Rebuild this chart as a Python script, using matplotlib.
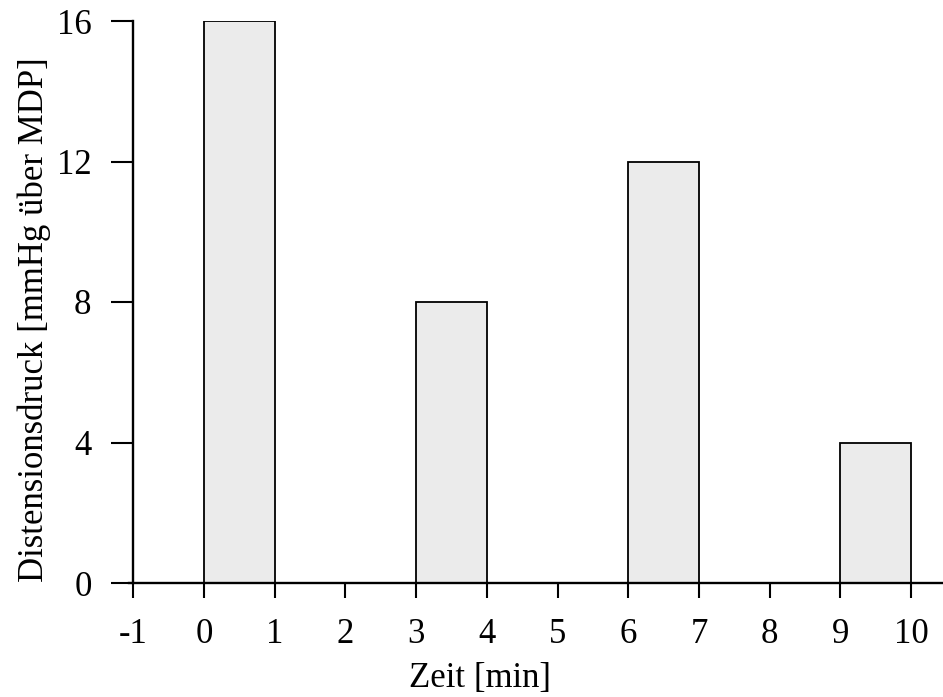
import matplotlib
matplotlib.use("Agg")
import matplotlib.pyplot as plt

starts = [0, 3, 6, 9]
widths = [1, 1, 1, 1]
heights = [16, 8, 12, 4]
xticks = [-1, 0, 1, 2, 3, 4, 5, 6, 7, 8, 9, 10]
xticklabels = ["-1", "0", "1", "2", "3", "4", "5", "6", "7", "8", "9", "10"]
yticks = [0, 4, 8, 12, 16]

plt.rcParams['font.family'] = ['Liberation Serif', 'DejaVu Serif']

fig = plt.figure(figsize=(9.43, 6.97), dpi=100)
ax = fig.add_axes([129/943, 1-583/697, 1-129/943, (583-21)/697])

ax.bar(starts, heights, width=widths, align='edge', color='#ebebeb',
       edgecolor='black', linewidth=1.3, zorder=2)

ax.set_xlim(-1.06, 10.45)
ax.set_ylim(0, 16)
ax.spines['top'].set_visible(False)
ax.spines['right'].set_visible(False)
ax.spines['left'].set_position(('data', -1))
ax.spines['left'].set_linewidth(1.7)
ax.spines['bottom'].set_linewidth(1.7)
ax.spines['bottom'].set_zorder(3)

ax.set_xticks(xticks)
ax.set_xticklabels(xticklabels)
ax.set_yticks(yticks)
ax.tick_params(axis='x', direction='out', length=11, width=1.5, pad=14, labelsize=25)
ax.tick_params(axis='y', direction='out', length=16, width=1.5, pad=14, labelsize=25)

ax.set_xlabel("Zeit [min]", fontsize=25, labelpad=8)
ax.set_ylabel("Distensionsdruck [mmHg über MDP]", fontsize=25, labelpad=4)
ax.xaxis.label.set_x(0.431)
ax.yaxis.label.set_y(0.468)

fig.savefig("out.png", dpi=100)
